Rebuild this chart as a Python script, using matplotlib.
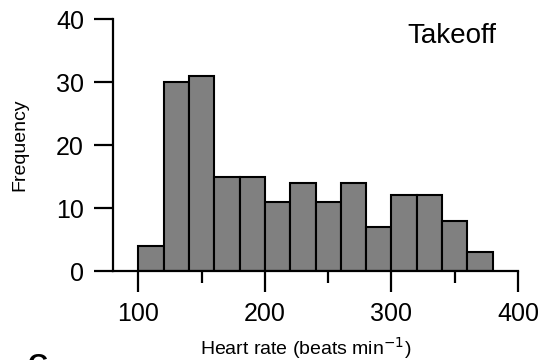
import numpy as np
import matplotlib.pyplot as plt
from matplotlib.ticker import MultipleLocator

plt.rcParams['font.family'] = ['Liberation Sans', 'DejaVu Sans']

# histogram bins (beats/min) and counts
bin_edges = [100, 120, 140, 160, 180, 200, 220, 240, 260, 280, 300, 320, 340, 360, 380]
counts = [4, 30, 31, 15, 15, 11, 14, 11, 14, 7, 12, 12, 8, 3]
panel_title = "Takeoff"

fig = plt.figure(figsize=(5.44, 3.6), dpi=100)
ax = fig.add_axes([0.208, 0.247, 0.744, 0.700])

left = np.array(bin_edges[:-1])
widths = np.diff(bin_edges)
ax.bar(left, counts, width=widths, align="edge", color="#808080",
       edgecolor="black", linewidth=1.5)

ax.set_xlim(80, 400)
ax.set_ylim(0, 40)
ax.set_xticks([100, 200, 300, 400])
ax.xaxis.set_minor_locator(MultipleLocator(50))
ax.set_yticks([0, 10, 20, 30, 40])

for s in ["top", "right"]:
    ax.spines[s].set_visible(False)
for s in ["left", "bottom"]:
    ax.spines[s].set_linewidth(1.6)

ax.tick_params(axis="x", which="major", length=15, width=1.6, labelsize=18, pad=7)
ax.tick_params(axis="x", which="minor", length=8.5, width=1.6)
ax.tick_params(axis="y", which="major", length=14, width=1.6, labelsize=18, pad=7)

ax.set_xlabel("Heart rate (beats min$^{-1}$)", fontsize=14)
ax.xaxis.set_label_coords(0.475, -0.255)
ax.xaxis.label.set_va("top")
ax.set_ylabel("Frequency", fontsize=14, labelpad=20)
ax.text(0.948, 0.985, panel_title, transform=ax.transAxes, fontsize=20,
        ha="right", va="top")

fig.text(0.052, 0.02, "C", fontsize=20, fontweight="bold", va="top")

fig.savefig("out.png", dpi=100)
